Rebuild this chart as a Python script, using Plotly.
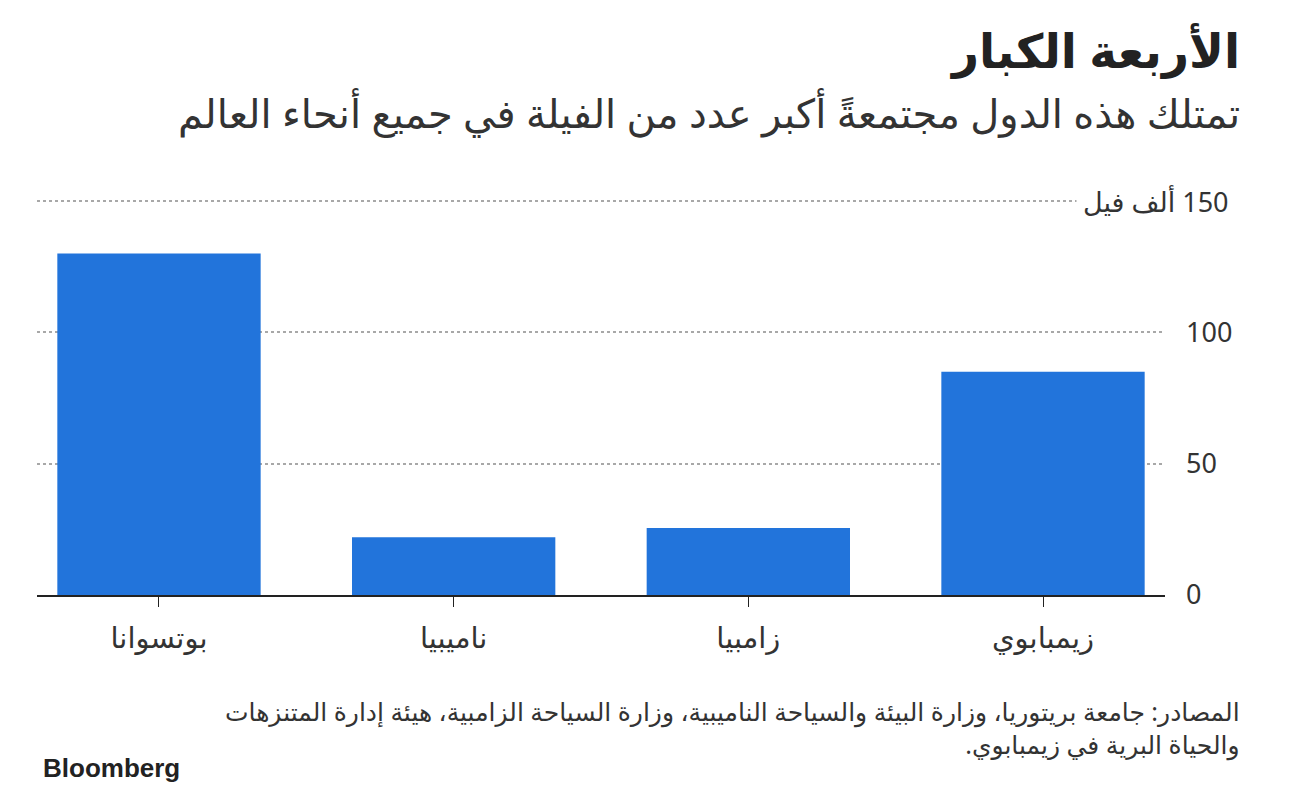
import plotly.graph_objects as go

countries = ["بوتسوانا", "ناميبيا", "زامبيا", "زيمبابوي"]
elephants_thousands = [130, 22, 25.5, 85]
y_tickvals = [0, 50, 100, 150]
y_ticktext = ["0", "50", "100", ""]

title = "الأربعة الكبار"
subtitle = "تمتلك هذه الدول مجتمعةً أكبر عدد من الفيلة في جميع أنحاء العالم"
source = ("\u200fالمصادر: جامعة بريتوريا، وزارة البيئة والسياحة الناميبية، وزارة السياحة الزامبية، هيئة إدارة المتنزهات"
          "<br>\u200fوالحياة البرية في زيمبابوي.\u200f")
unit_label = "\u200f150 ألف فيل"

FONT = "Noto Sans, DejaVu Sans, sans-serif"

# plot area in pixels
L, R, T, B = 37, 1165, 196, 595
Y150 = 201
YTOP = 150 * (B - T) / (B - Y150)
def px(x):
    return (x - L) / (R - L)
def py(y):
    return (B - y) / (B - T)

fig = go.Figure()
fig.add_trace(go.Bar(
    x=list(range(len(countries))),
    y=elephants_thousands,
    marker=dict(color="#2274DB", line=dict(width=0)),
    width=0.69,
    hoverinfo="skip",
))

fig.update_layout(
    width=1296, height=798,
    margin=dict(l=L, r=1296 - R, t=T, b=798 - B),
    paper_bgcolor="white", plot_bgcolor="white",
    showlegend=False,
    font=dict(family=FONT, color="#333333"),
    xaxis=dict(
        range=[-0.414, 3.414],
        tickvals=list(range(len(countries))),
        ticktext=countries,
        ticks="outside", ticklen=10, tickcolor="#222", tickwidth=1,
        showline=True, linecolor="#222", linewidth=1.5,
        showgrid=False, zeroline=False,
        tickfont=dict(size=29, color="#333"),
        ticklabelstandoff=6,
    ),
    yaxis=dict(
        side="right",
        range=[0, YTOP],
        tickvals=y_tickvals, ticktext=y_ticktext,
        showgrid=True, gridcolor="#A8A8A8", griddash="3px,3px", gridwidth=2,
        zeroline=False, showline=False, ticks="",
        tickfont=dict(size=27, color="#333"),
        ticklabelstandoff=20,
    ),
)

fig.add_annotation(
    xref="paper", yref="y", x=px(1236), y=150, xanchor="right", yanchor="middle",
    text=unit_label, showarrow=False, bgcolor="white", borderpad=6,
    font=dict(size=27, color="#333"),
)

fig.add_annotation(
    xref="paper", yref="paper", x=px(1242), y=py(50), xanchor="right", yanchor="middle",
    text="<b>" + title + "</b>", showarrow=False,
    font=dict(size=47, color="#222"),
)
fig.add_annotation(
    xref="paper", yref="paper", x=px(1242), y=py(113), xanchor="right", yanchor="middle",
    text=subtitle, showarrow=False,
    font=dict(size=40, color="#333"),
)
fig.add_annotation(
    xref="paper", yref="paper", x=px(1242), y=py(727), xanchor="right", yanchor="middle",
    text=source, showarrow=False, align="right",
    font=dict(size=25, color="#333"),
)
fig.add_annotation(
    xref="paper", yref="paper", x=px(41), y=py(768), xanchor="left", yanchor="middle",
    text="<b>Bloomberg</b>", showarrow=False,
    font=dict(size=26, color="#222", family="Liberation Sans, Arial, sans-serif"),
)

fig.write_html("out.html")
